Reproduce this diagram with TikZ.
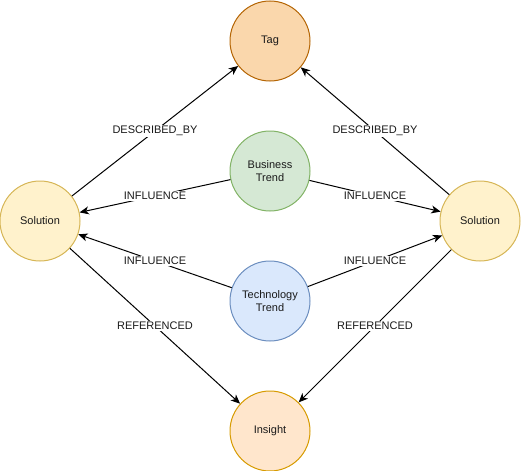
\documentclass[tikz,border=0pt]{standalone}
\usepackage{fontspec}
\setmainfont{Liberation Sans}
\usetikzlibrary{arrows.meta}
\definecolor{tagfill}{HTML}{FAD7AC}\definecolor{tagline}{HTML}{B46504}
\definecolor{busfill}{HTML}{D5E8D4}\definecolor{busline}{HTML}{82B366}
\definecolor{techfill}{HTML}{DAE8FC}\definecolor{techline}{HTML}{6C8EBF}
\definecolor{solfill}{HTML}{FFF2CC}\definecolor{solline}{HTML}{D6B656}
\definecolor{insfill}{HTML}{FFE6CC}\definecolor{insline}{HTML}{D79B00}
\definecolor{txt}{HTML}{1A1A1A}
\tikzset{
  circ/.style={circle, minimum size=60pt, inner sep=0pt, line width=0.75pt, align=center, text=txt, font=\fontsize{8.25}{9.5}\selectfont},
  rel/.style={-{Stealth[length=7pt,width=6pt,inset=2pt]}, line width=0.75pt, draw=black},
  lbl/.style={fill=white, inner sep=1pt, text=txt, font=\fontsize{8.25}{9.5}\selectfont}
}
\begin{document}
\begin{tikzpicture}[x=0.75pt,y=-0.75pt]
\useasboundingbox (0,0) rectangle (521,471);
\node[circ, fill=tagfill, draw=tagline] (tag) at (270,41) {Tag};
\node[circ, fill=busfill, draw=busline] (bus) at (270,171) {Business\\Trend};
\node[circ, fill=techfill, draw=techline] (tech) at (270,301) {Technology\\Trend};
\node[circ, fill=insfill, draw=insline] (ins) at (270,431) {Insight};
\node[circ, fill=solfill, draw=solline] (solL) at (40,221) {Solution};
\node[circ, fill=solfill, draw=solline] (solR) at (480,221) {Solution};
\draw[rel] (solL) -- node[lbl] {DESCRIBED\_BY} (tag);
\draw[rel] (solR) -- node[lbl] {DESCRIBED\_BY} (tag);
\draw[rel] (bus) -- node[lbl] {INFLUENCE} (solL);
\draw[rel] (bus) -- node[lbl] {INFLUENCE} (solR);
\draw[rel] (tech) -- node[lbl] {INFLUENCE} (solL);
\draw[rel] (tech) -- node[lbl] {INFLUENCE} (solR);
\draw[rel] (solL) -- node[lbl] {REFERENCED} (ins);
\draw[rel] (solR) -- node[lbl] {REFERENCED} (ins);
\end{tikzpicture}
\end{document}
